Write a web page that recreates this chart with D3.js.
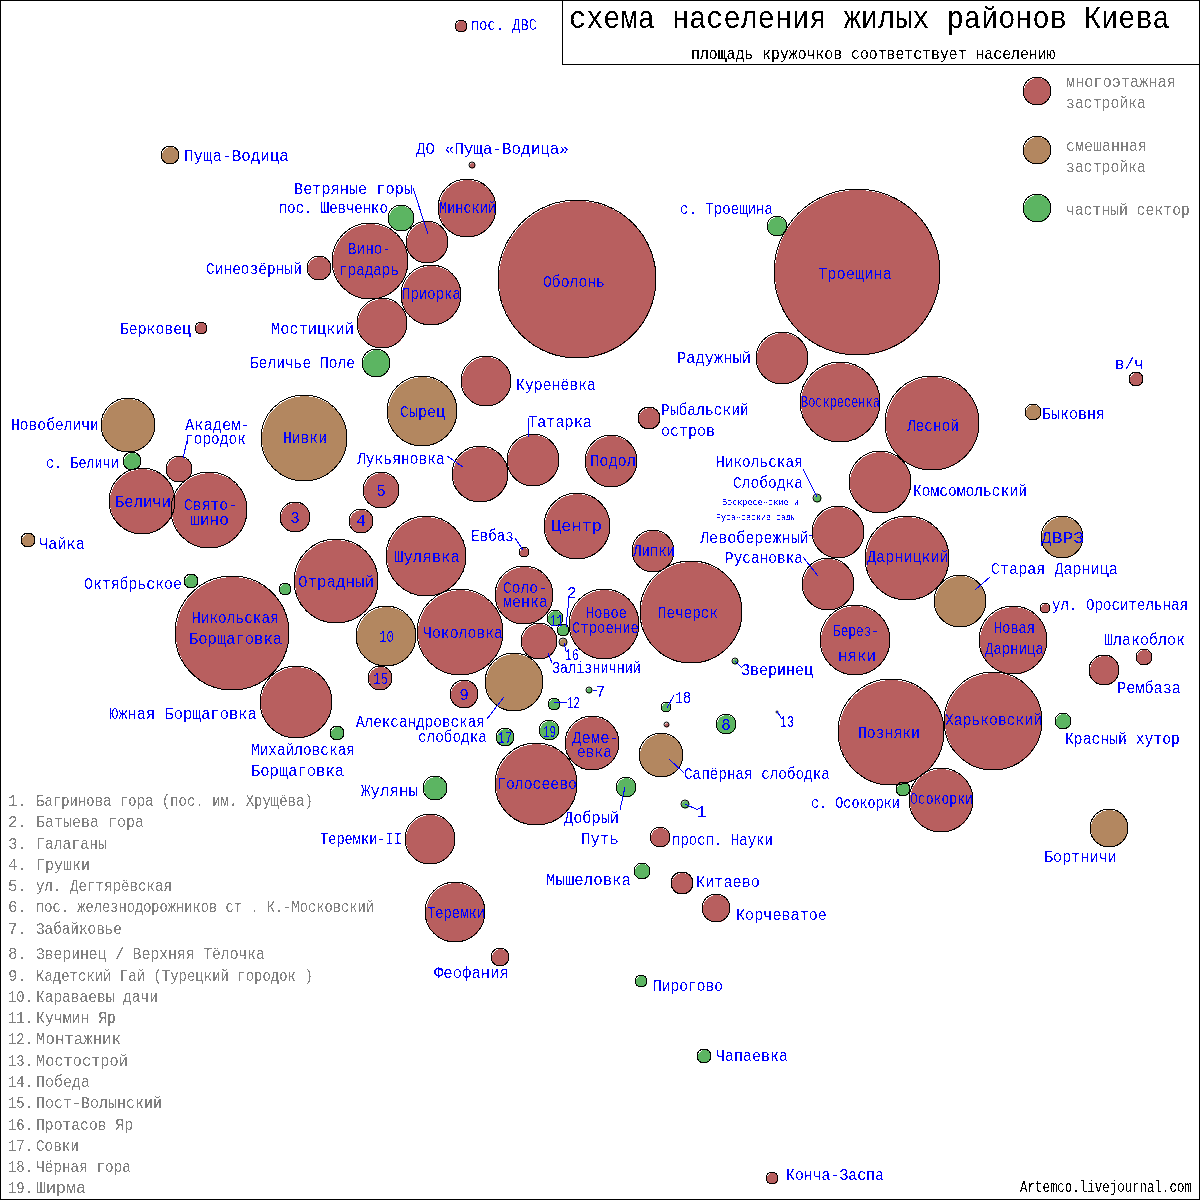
<!DOCTYPE html>
<html><head><meta charset="utf-8">
<script src="https://cdn.jsdelivr.net/npm/d3@7/dist/d3.min.js"></script>
<style>html,body{margin:0;padding:0;background:#fff}svg{display:block}</style></head><body>
<div id="chart"></div>
<script>
// kinds: m = многоэтажная, s = смешанная, c = частный сектор
const districtNames = ["Оболонь","Троещина","Минский","Виноградарь","Ветряные горы","пос. Шевченко","Приорка","Синеозёрный","Мостицкий","Беличье Поле","Берковец","Пуща-Водица","ДО Пуща-Водица","пос. ДВС","с. Троещина","Радужный","Воскресенка","Лесной","Куренёвка","Сырец","Нивки","Новобеличи","с. Беличи","Академгородок","Беличи","Святошино","Галаганы","Грушки","ул. Дегтярёвская","Лукьяновка","Татарка","Подол","Рыбальский остров","Центр","Евбаз","Липки","Шулявка","Отрадный","Чайка","Октябрьское","Никольская Борщаговка","Малый сектор","Караваевы дачи","Чоколовка","Соломенка","Кучмин Яр","Батыева гора","Протасов Яр","Залізничний","Новое Строение","Печерск","Александровская слободка","Кадетский Гай","Пост-Волынский","Южная Борщаговка","Михайловская Борщаговка","Монтажник","Забайковье","Чёрная гора","Победа","Ширма","Совки","Демеевка","Голосеево","Сапёрная слободка","Зверинец","Верхняя Тёлочка","Мостострой","Добрый Путь","Багринова гора","просп. Науки","Мышеловка","Китаево","Корчеватое","Жуляны","Теремки-II","Теремки","Феофания","Пирогово","Чапаевка","Конча-Заспа","Никольская Слободка","Левобережный","Русановка","Дарницкий","Комсомольский","ДВРЗ","Старая Дарница","ул. Оросительная","Новая Дарница","Березняки","Шлакоблок","Рембаза","Харьковский","Позняки","Красный хутор","Осокорки","с. Осокорки","Бортничи","Быковня","в/ч"];
const districtX = [577,857,467,370,427,401,431,319,382,376,201,170,472,461,777,782,840,932,486,422,304,128,132,179,142,209,295,361,381,480,533,611,649,577,524,653,426,336,28,191,232,285,386,460,524,555,563,563,539,604,691,514,464,380,296,337,554,589,666,666.5,549,505,592,536,661,735,726,777,626,685,660,642,682,716,435,430,455,500,641,704,772,817,838,828,907,880,1062,960,1045,1013,855,1144,1104,993,891,1063,941,903,1109,1033,1136];
const districtY = [279,272,208,261,242,218,295,268,323,363,328,155,165,26,226,358,402,423,381,411,438,425,461,469,501,510,517,521,490,474,460,461,418,526,552,551,556,581,540,581,633,589,636,632,595,618,630,642,641,624,612,682,694,678,702,733,704,690,707,724.5,730,737,743,784,755,661,724,712,787,804,837,871,883,908,788,839,912,957,981,1056,1178,498,532,584,558,482,537,601,608,640,640,657,670,721,732,721,800,789,828,412,379];
const districtPop = [6241,6889,841,1444,441,169,900,144,625,196,36,81,9,36,100,676,1600,2209,625,1225,1849,729,81,169,1089,1444,225,144,324,784,676,676,121,1089,25,441,1600,1764,49,49,3249,36,900,1849,841,64,36,16,324,1225,2601,841,196,144,1296,49,36,9,25,6,100,81,729,1681,484,9,100,1,100,16,100,64,121,196,144,625,900,81,36,49,36,16,676,676,1764,961,441,676,25,1156,1225,64,225,2401,2809,64,1024,49,361,64,49];
const districtKind = ("mmmmmcmmmc"+"msmmcmmmms"+"sscmmmmmmm"+"mmmmmmmmsc"+"mcsmmccsmm"+"msmmmccccm"+"ccmmsccccc"+"mcmmcmmmcc"+"mcmmmmssmm"+"mmmmmcmcss"+"m").split("");
const legendKinds = ["m","s","c"];
const legendPop = [196,196,196];
const kindColor = {m:"#b85f5f", s:"#b38760", c:"#5cb562"};
const numberedNames = ["Багринова гора (пос. им. Хрущёва)","Батыева гора","Галаганы","Грушки","ул. Дегтярёвская","пос. железнодорожников ст . К.-Московский","Забайковье","Зверинец / Верхняя Тёлочка","Кадетский Гай (Турецкий городок )","Караваевы дачи","Кучмин Яр","Монтажник","Мостострой","Победа","Пост-Волынский","Протасов Яр","Совки","Чёрная гора","Ширма"];

// ---- label layout, separate from data: text, x0, x1, baseline
const blueLabels = [["пос. ДВС",471,536,30],["Пуща-Водица",184,288,161],["ДО «Пуща-Водица»",416,568,154],["Ветряные горы",294,412,194],["пос. Шевченко",279,387,213],["Минский",439,495,213],["Вино-",348,390,254],["градарь",339,398,275],["Приорка",402,460,299],["Синеозёрный",206,301,274],["Мостицкий",271,353,334],["Берковец",120,190,334],["Беличье Поле",250,354,368],["Оболонь",543,604,287],["Троещина",818,891,279],["с. Троещина",680,772,214],["Радужный",677,750,363],["Воскресенка",801,879,407],["Лесной",907,958,431],["Куренёвка",516,595,390],["Сырец",400,444,417],["Нивки",283,326,443],["Рыбальский",661,748,415],["остров",661,714,436],["Татарка",528,591,427],["Новобеличи",11,98,430],["Академ-",185,249,430],["городок",185,245,444],["с. Беличи",46,118,468],["Лукьяновка",357,444,464],["Подол",590,635,466],["Никольская",716,802,467],["Слободка",733,802,488],["Комсомольский",913,1026,496],["Быковня",1042,1104,419],["в/ч",1115,1143,369],["Беличи",115,170,507],["Свято-",184,236,510],["шино",190,228,525],["3",291,299,523],["4",357,365,526],["5",377,385,496],["Центр",551,601,531],["Евбаз",471,513,541],["Липки",633,674,556],["Шулявка",394,459,562],["Отрадный",298,373,587],["Чайка",39,84,549],["Октябрьское",84,181,589],["Левобережный",700,808,543],["Русановка",725,802,563],["Дарницкий",867,948,562],["ДВРЗ",1041,1083,543],["Старая Дарница",991,1117,574],["ул. Оросительная",1052,1187,610],["Никольская",192,278,623],["Борщаговка",189,281,644],["10",379,393,642],["Чоколовка",423,502,638],["Соло-",503,546,593],["менка",503,547,607],["2",568,575,598],["11",550,562,626],["Новое",586,626,618],["Строение",572,638,633],["Печерск",658,717,618],["16",565,578,660],["Залізничний",552,640,673],["Зверинец",741,812,675],["Шлакоблок",1104,1184,645],["Рембаза",1117,1180,693],["Новая",994,1034,633],["Дарница",985,1043,654],["Берез-",833,878,636],["няки",838,875,661],["15",373,387,684],["9",460,468,700],["Южная Борщаговка",109,256,719],["7",597,604,697],["12",567,579,708],["18",675,690,703],["17",498,511,743],["19",543,555,737],["8",722,730,730],["13",780,793,727],["Александровская",356,484,727],["слободка",418,486,742],["Михайловская",251,354,755],["Борщаговка",251,343,776],["Деме-",572,618,743],["евка",577,611,757],["Голосеево",497,576,789],["Позняки",858,919,738],["Харьковский",945,1041,725],["Красный хутор",1065,1179,744],["Сапёрная слободка",684,829,779],["Жуляны",361,417,796],["с. Осокорки",811,899,808],["Осокорки",910,972,804],["1",699,704,817],["Добрый",564,618,823],["Путь",581,618,844],["Теремки-II",320,401,844],["просп. Науки",672,772,845],["Бортничи",1044,1116,862],["Мышеловка",546,630,885],["Китаево",696,759,887],["Корчеватое",736,826,920],["Теремки",427,484,918],["Феофания",434,508,978],["Пирогово",653,722,991],["Чапаевка",716,787,1061],["Конча-Заспа",786,883,1180]];
const tinyLabels = [["Воскресенские и",722,798,505],["Русановские сады",716,795,520]];
const leaders = [[413,188,428,234],[528,418,528,437],[447,456,463,467],[188,437,183,458],[515,538,523,550],[569,598,566,627],[564,643,566,651],[548,653,552,663],[593,690,597,690],[554,702,567,702],[674,695,667,708],[504,697,487,719],[669,759,684,773],[735,661,742,668],[777,711,781,718],[625,787,620,810],[685,804,698,810],[803,469,817,497],[809,535,812,535],[803,557,818,576],[990,577,975,590]];
const grayLegend = [["многоэтажная",1066,1175,87],["застройка",1066,1145,108],["смешанная",1066,1146,151],["застройка",1066,1145,172],["частный сектор",1066,1189,215]];
const legendY = [91,150,208];
const legendX = 1037;
const listBase = [806,827,849,870,891,912,934,959,981,1002,1023,1044,1066,1087,1108,1130,1151,1172,1193];
const listEnd = [312,143,106,89,171,373,121,264,312,157,115,120,127,89,161,132,78,130,85];

const size = 1200;
const x = d3.scaleLinear().domain([0,1200]).range([0,size]);
const y = d3.scaleLinear().domain([0,1200]).range([0,size]);
const r = d3.scaleSqrt().domain([0,6889]).range([0,83]);

const districts = districtNames.map((n,i)=>({name:n,x:districtX[i],y:districtY[i],pop:districtPop[i],kind:districtKind[i]}));
const legendItems = legendKinds.map((k,i)=>({kind:k,x:legendX,y:legendY[i],pop:legendPop[i]}));

const svg = d3.select("#chart").append("svg").attr("width",size).attr("height",size);
svg.append("rect").attr("x",0.5).attr("y",0.5).attr("width",1199).attr("height",1199).attr("fill","#fff").attr("stroke","#000");

const defs = svg.append("defs");
const f = defs.append("filter").attr("id","hard").attr("color-interpolation-filters","sRGB")
  .attr("filterUnits","userSpaceOnUse").attr("x",0).attr("y",0).attr("width",1200).attr("height",1200);
f.append("feComponentTransfer").append("feFuncA").attr("type","discrete").attr("tableValues","0 0 1 1");

const crisp = d=>r(d.pop)>=5 ? "crispEdges" : "auto";
const all = districts.concat(legendItems);
// fill layer is offset slightly from outline, as in the reference
svg.append("g").selectAll("circle").data(all).join("circle")
  .attr("shape-rendering",crisp)
  .attr("cx",d=>x(d.x)+0.6).attr("cy",d=>y(d.y)+0.8).attr("r",d=>Math.max(r(d.pop)-0.3,0.5))
  .attr("fill",d=>kindColor[d.kind]);
svg.append("g").selectAll("circle").data(all).join("circle")
  .attr("shape-rendering",crisp)
  .attr("cx",d=>x(d.x)).attr("cy",d=>y(d.y)).attr("r",d=>r(d.pop))
  .attr("fill","none").attr("stroke","#000").attr("stroke-width",1);

svg.append("g").attr("stroke","#0000ff").attr("stroke-width",1).attr("shape-rendering","crispEdges")
  .selectAll("line").data(leaders).join("line")
  .attr("x1",d=>d[0]).attr("y1",d=>d[1]).attr("x2",d=>d[2]).attr("y2",d=>d[3]);

svg.append("rect").attr("x",562.5).attr("y",0.5).attr("width",637).attr("height",64).attr("fill","#fff").attr("stroke","#000");

const txt = svg.append("g").attr("font-family","'Liberation Mono','DejaVu Sans Mono',monospace").attr("filter","url(#hard)");
function put(rows,color,fs){
  txt.append("g").attr("fill",color).attr("font-size",fs).selectAll("text").data(rows).join("text")
    .text(d=>d[0])
    .each(function(d){
      const el=d3.select(this);
      if(/^\d$/.test(d[0])){
        // single digits keep natural width, centred on their read extent
        el.attr("text-anchor","middle").attr("x",(d[1]+d[2])/2).attr("y",d[3]);
      } else {
        const nat=this.getComputedTextLength();
        const sx=(d[2]-d[1]+1)/nat;
        el.attr("transform",`translate(${d[1]},${d[3]}) scale(${sx},1)`);
      }
    });
}
put(blueLabels,"#0000ff",16);
put(tinyLabels,"#0000ff",9);
put(grayLegend,"#808080",16);
put(numberedNames.map((n,i)=>[n,36,listEnd[i],listBase[i]]),"#808080",16);
put(numberedNames.map((n,i)=>[(i+1)+".",8,i<9?26:32,listBase[i]]),"#808080",16);
put([["схема населения жилых районов Киева",569,1169,28]],"#000",32);
put([["площадь кружочков соответствует населению",691,1055,59]],"#000",16);
put([["Artemco.livejournal.com",1020,1191,1192]],"#000",16);
</script></body></html>
